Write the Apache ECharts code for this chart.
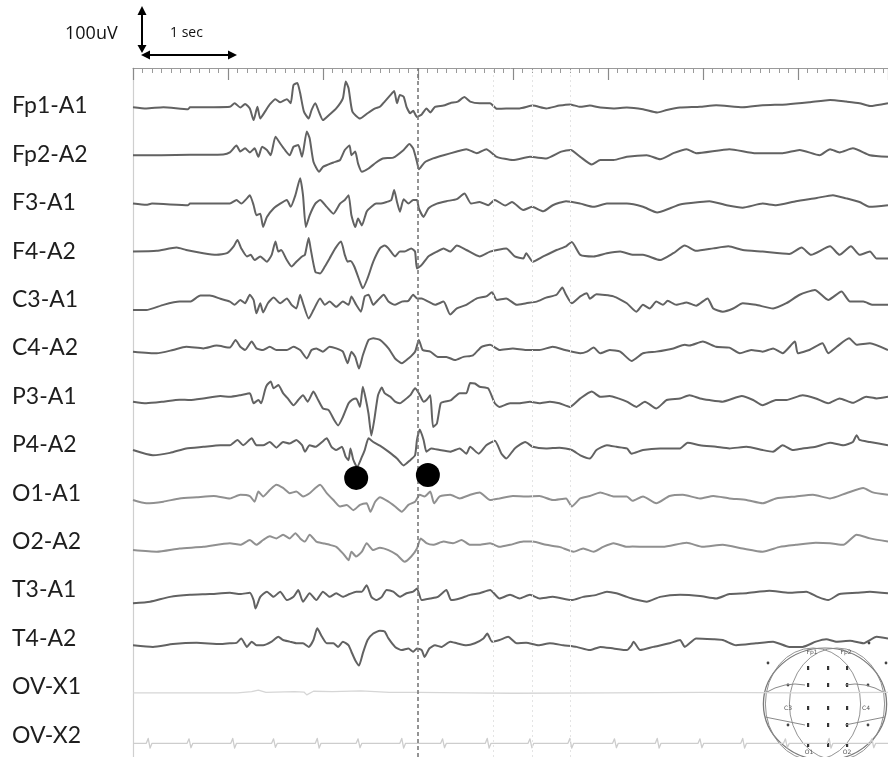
<!DOCTYPE html>
<html><head><meta charset="utf-8">
<script src="https://cdn.jsdelivr.net/npm/echarts@6/dist/echarts.min.js"></script>
<style>html,body{margin:0;padding:0;background:#fff}#c{width:888px;height:757px}</style>
</head><body><div id="c"></div>
<script>
// Channel names (labels on the left)
const channelNames = ['Fp1-A1','Fp2-A2','F3-A1','F4-A2','C3-A1','C4-A2','P3-A1','P4-A2','O1-A1','O2-A2','T3-A1','T4-A2','OV-X1','OV-X2'];

// Each trace: [time (s), amplitude (µV)]
const fp1A1 = [[0,-3],[0.14,-6],[0.32,-3],[0.58,-8],[0.6,-3],[0.85,-3],[1.02,-2],[1.07,7],[1.13,-4],[1.18,5],[1.23,-6],[1.27,-35],[1.31,-2],[1.34,-31],[1.39,-14],[1.44,4],[1.5,17],[1.55,9],[1.62,17],[1.66,7],[1.69,52],[1.73,57],[1.76,32],[1.8,-14],[1.85,-31],[1.88,-10],[1.92,7],[1.96,-16],[2.0,-35],[2.07,-21],[2.14,-6],[2.21,19],[2.24,61],[2.27,44],[2.31,-14],[2.39,-31],[2.47,-18],[2.55,-6],[2.6,-2],[2.65,11],[2.71,27],[2.75,37],[2.78,7],[2.81,27],[2.85,23],[2.88,-2],[2.92,-18],[2.95,-12],[2.99,-27],[3.04,-21],[3.09,-6],[3.13,-16],[3.18,-2],[3.27,1],[3.34,7],[3.42,11],[3.49,22],[3.55,11],[3.65,7],[3.76,7],[3.83,-7],[3.93,-6],[4.07,-6],[4.21,1],[4.35,-6],[4.49,1],[4.6,4],[4.71,-2],[4.81,1],[4.92,-4],[5.06,-6],[5.2,-4],[5.37,-8],[5.52,-16],[5.62,-10],[5.76,-4],[5.97,-2],[6.14,2],[6.42,-3],[6.63,2],[6.88,4],[7.12,9],[7.34,15],[7.51,11],[7.65,7],[7.76,0],[7.95,7]];
const fp2A2 = [[0,-2],[0.3,-2],[0.6,-1],[0.95,0],[1.02,5],[1.09,22],[1.13,7],[1.18,15],[1.23,5],[1.28,15],[1.32,-6],[1.36,19],[1.41,11],[1.45,-2],[1.5,44],[1.55,27],[1.6,11],[1.65,-2],[1.69,19],[1.74,23],[1.78,-6],[1.83,57],[1.86,40],[1.9,-18],[1.96,-43],[2.0,-31],[2.11,-20],[2.18,-14],[2.23,11],[2.28,22],[2.3,-2],[2.34,7],[2.37,-23],[2.41,-43],[2.48,-35],[2.56,-20],[2.63,-10],[2.74,-8],[2.85,11],[2.91,26],[2.95,15],[2.99,-18],[3.01,-37],[3.07,-20],[3.16,-10],[3.27,-2],[3.41,7],[3.51,13],[3.62,3],[3.72,13],[3.83,-6],[4.0,-14],[4.18,-6],[4.35,-10],[4.51,7],[4.61,11],[4.71,-6],[4.83,-25],[4.92,-14],[5.06,-14],[5.2,-6],[5.41,-2],[5.55,-12],[5.69,3],[5.83,13],[5.93,3],[6.28,13],[6.56,3],[6.84,3],[7.02,11],[7.23,-2],[7.34,13],[7.44,5],[7.58,15],[7.76,-2],[7.95,-6]];
const f3A1 = [[0,-2],[0.14,-5],[0.2,-2],[0.58,-6],[0.6,-2],[1.02,-2],[1.09,7],[1.14,-2],[1.2,11],[1.23,19],[1.27,-6],[1.3,-31],[1.34,-27],[1.37,-60],[1.41,-35],[1.48,-14],[1.55,-2],[1.62,7],[1.66,-10],[1.71,19],[1.76,61],[1.79,19],[1.82,-60],[1.86,-31],[1.92,-2],[1.97,7],[2.04,-10],[2.11,-27],[2.18,-2],[2.23,7],[2.27,19],[2.3,-31],[2.34,-60],[2.37,-39],[2.41,-56],[2.46,-22],[2.51,-10],[2.56,-2],[2.6,-2],[2.67,2],[2.72,7],[2.75,32],[2.78,2],[2.81,-22],[2.85,9],[2.9,-2],[2.95,7],[2.99,7],[3.01,-14],[3.06,-35],[3.11,-14],[3.2,-2],[3.3,4],[3.41,9],[3.49,23],[3.56,-2],[3.65,2],[3.74,-6],[3.81,7],[3.92,-7],[3.99,2],[4.11,-18],[4.2,-10],[4.32,-21],[4.42,-6],[4.56,4],[4.71,-2],[4.85,-10],[4.99,-2],[5.2,-2],[5.37,-10],[5.52,-24],[5.65,-14],[5.76,-4],[5.97,2],[6.07,4],[6.25,-6],[6.42,-12],[6.63,-2],[6.77,-6],[6.98,4],[7.2,12],[7.37,19],[7.51,11],[7.65,2],[7.76,-10],[7.95,-6]];
const f4A2 = [[0,-1],[0.25,1],[0.46,9],[0.56,3],[0.74,-5],[0.88,-9],[0.99,-5],[1.06,12],[1.1,28],[1.14,7],[1.2,-13],[1.24,-9],[1.28,-22],[1.34,-13],[1.41,-26],[1.46,-9],[1.5,24],[1.53,-1],[1.56,3],[1.62,-22],[1.67,-38],[1.72,-26],[1.78,-13],[1.81,-9],[1.85,33],[1.87,7],[1.92,-51],[1.97,-55],[2.02,-38],[2.07,-18],[2.13,7],[2.19,24],[2.23,-9],[2.26,-26],[2.29,-24],[2.33,-38],[2.39,-76],[2.42,-92],[2.47,-67],[2.53,-26],[2.6,7],[2.65,14],[2.69,7],[2.76,-13],[2.81,-1],[2.86,-1],[2.93,7],[2.97,-1],[2.99,-43],[3.04,-34],[3.11,-13],[3.2,-1],[3.27,7],[3.34,-1],[3.41,14],[3.51,3],[3.65,-13],[3.76,-1],[3.93,7],[4.02,-13],[4.11,-18],[4.14,-5],[4.21,-26],[4.32,-13],[4.46,3],[4.56,12],[4.62,23],[4.71,-9],[4.85,-13],[4.99,-5],[5.13,-1],[5.27,-9],[5.37,-9],[5.55,-22],[5.69,-5],[5.81,14],[5.93,1],[6.11,7],[6.27,12],[6.42,3],[6.63,-1],[6.91,-7],[7.04,9],[7.14,-9],[7.34,12],[7.44,-9],[7.56,12],[7.65,-9],[7.76,-1],[7.83,-18],[7.95,-18]];
const c3A1 = [[0,-26],[0.14,-26],[0.32,-13],[0.49,-5],[0.6,-5],[0.71,10],[0.81,10],[0.92,2],[1.02,-5],[1.07,-13],[1.13,-1],[1.18,-9],[1.23,12],[1.27,-1],[1.3,-34],[1.34,-9],[1.37,-32],[1.42,-9],[1.48,5],[1.55,-9],[1.62,3],[1.67,-13],[1.72,-22],[1.76,12],[1.79,-9],[1.85,-47],[1.9,-26],[1.97,3],[2.02,-13],[2.07,-5],[2.14,-18],[2.21,-5],[2.27,-13],[2.3,8],[2.35,-13],[2.4,-30],[2.44,8],[2.48,12],[2.53,-13],[2.58,-1],[2.64,12],[2.69,-5],[2.76,-13],[2.83,-5],[2.9,-3],[2.95,12],[2.99,3],[3.04,3],[3.11,-5],[3.18,-13],[3.27,-5],[3.34,-37],[3.41,-22],[3.51,-13],[3.62,3],[3.72,8],[3.78,18],[3.83,-1],[3.93,3],[4.04,-13],[4.14,-9],[4.25,-5],[4.35,5],[4.46,12],[4.52,30],[4.56,12],[4.62,-9],[4.71,8],[4.78,16],[4.81,2],[4.88,13],[5.06,8],[5.2,-9],[5.3,-30],[5.37,-13],[5.44,-22],[5.51,-5],[5.58,-13],[5.63,-3],[5.72,-13],[5.83,-7],[5.93,-15],[6.05,3],[6.11,-22],[6.21,-30],[6.32,-22],[6.42,-9],[6.56,-13],[6.74,-22],[6.88,-9],[7.02,12],[7.18,24],[7.32,-1],[7.46,20],[7.55,-5],[7.69,-5],[7.79,-13],[7.95,-13]];
const c4A2 = [[0,-9],[0.25,-13],[0.42,-5],[0.56,3],[0.74,-1],[0.88,6],[1.02,1],[1.08,20],[1.13,3],[1.18,-5],[1.25,16],[1.3,-1],[1.37,-5],[1.44,3],[1.51,-5],[1.62,-5],[1.69,3],[1.76,-5],[1.83,-26],[1.88,-5],[1.93,-1],[2.0,-9],[2.07,3],[2.14,-1],[2.21,-9],[2.26,-38],[2.3,-9],[2.34,-22],[2.38,-51],[2.42,-18],[2.48,20],[2.53,24],[2.6,20],[2.69,-1],[2.76,-26],[2.83,-38],[2.9,-26],[2.97,-9],[3.01,20],[3.05,-5],[3.13,-9],[3.21,-22],[3.3,-22],[3.39,-30],[3.48,-22],[3.58,-18],[3.67,3],[3.76,8],[3.86,-5],[4.0,-1],[4.14,-5],[4.28,-5],[4.42,3],[4.55,-5],[4.71,-13],[4.78,-9],[4.85,1],[4.92,-13],[5.02,-5],[5.13,-9],[5.25,-32],[5.37,-13],[5.51,-9],[5.69,-1],[5.81,8],[5.86,6],[6.0,16],[6.14,3],[6.28,1],[6.39,-13],[6.51,-5],[6.63,-9],[6.74,-1],[6.84,-13],[6.97,16],[7.0,-13],[7.12,-5],[7.26,12],[7.32,-13],[7.41,3],[7.54,24],[7.62,8],[7.76,12],[7.95,-5]];
const p3A1 = [[0,-13],[0.14,-17],[0.32,-13],[0.49,-8],[0.6,-9],[0.74,-5],[0.92,1],[1.02,-1],[1.13,3],[1.23,8],[1.27,-17],[1.32,-9],[1.35,-17],[1.39,16],[1.41,28],[1.45,37],[1.48,20],[1.53,28],[1.58,8],[1.63,-5],[1.69,-22],[1.74,-9],[1.79,3],[1.84,-13],[1.9,12],[1.95,-9],[2.0,-30],[2.06,-34],[2.12,-59],[2.16,-72],[2.21,-51],[2.27,-17],[2.31,-8],[2.35,-5],[2.39,-26],[2.42,24],[2.45,-5],[2.48,-43],[2.51,-97],[2.54,-59],[2.58,3],[2.62,22],[2.65,8],[2.71,-1],[2.76,-13],[2.81,-17],[2.86,-9],[2.92,3],[2.97,20],[3.01,8],[3.06,-13],[3.09,-9],[3.13,3],[3.16,-76],[3.2,-67],[3.24,-17],[3.28,-13],[3.35,-9],[3.44,8],[3.51,8],[3.55,33],[3.6,32],[3.65,24],[3.74,20],[3.81,-17],[3.86,-26],[3.97,-17],[4.07,-17],[4.18,-13],[4.28,-17],[4.39,-13],[4.49,-17],[4.6,-26],[4.71,-5],[4.83,12],[4.92,-1],[5.02,1],[5.11,-5],[5.2,-13],[5.3,-26],[5.39,-13],[5.51,-30],[5.62,-9],[5.76,-5],[5.86,3],[5.97,-5],[6.07,-9],[6.21,-13],[6.41,1],[6.53,-9],[6.63,-22],[6.77,-9],[6.88,-9],[7.05,3],[7.19,-5],[7.32,-17],[7.44,-5],[7.58,-16],[7.72,-1],[7.83,-5],[7.95,-1]];
const p4A2 = [[0,-13],[0.21,-26],[0.39,-20],[0.56,-9],[0.74,-5],[0.92,-1],[1.02,-1],[1.1,12],[1.16,-1],[1.25,16],[1.3,-1],[1.37,-1],[1.44,7],[1.51,-7],[1.58,7],[1.65,3],[1.72,12],[1.78,-1],[1.81,-17],[1.86,-1],[1.92,-5],[1.99,7],[2.04,16],[2.09,-5],[2.14,-13],[2.2,-5],[2.24,-30],[2.27,-38],[2.29,-9],[2.32,-37],[2.36,-55],[2.41,-30],[2.44,-13],[2.48,16],[2.53,7],[2.6,-2],[2.69,-17],[2.78,-34],[2.85,-51],[2.92,-38],[2.97,-26],[2.99,12],[3.02,38],[3.06,12],[3.09,-17],[3.14,-9],[3.23,-13],[3.34,-17],[3.44,-9],[3.51,-22],[3.55,-5],[3.64,-22],[3.72,-1],[3.81,10],[3.88,-22],[3.93,-34],[4.02,-9],[4.13,7],[4.21,-5],[4.35,-9],[4.49,-7],[4.62,-13],[4.71,-26],[4.81,-34],[4.88,-13],[4.99,-1],[5.09,-5],[5.2,-9],[5.25,-22],[5.37,-13],[5.55,-9],[5.76,-9],[5.84,5],[5.97,-1],[6.14,-5],[6.28,-9],[6.46,-5],[6.63,-13],[6.74,-17],[6.84,-1],[6.95,-13],[7.05,-9],[7.19,-5],[7.34,5],[7.48,-1],[7.58,7],[7.62,24],[7.65,12],[7.76,7],[7.95,-1]];
const o1A1 = [[0,-17],[0.14,-25],[0.32,-21],[0.49,-13],[0.67,-10],[0.85,-7],[1.02,-13],[1.13,-4],[1.23,-7],[1.28,-21],[1.32,4],[1.37,-8],[1.44,8],[1.51,21],[1.58,13],[1.65,0],[1.72,4],[1.79,-8],[1.86,0],[1.92,13],[1.97,21],[2.04,0],[2.11,-17],[2.18,-33],[2.25,-29],[2.32,-42],[2.39,-29],[2.46,-25],[2.5,-46],[2.55,-21],[2.6,-10],[2.69,-21],[2.76,-33],[2.83,-46],[2.9,-29],[2.97,-21],[3.02,-4],[3.07,-8],[3.13,4],[3.17,-25],[3.23,-8],[3.34,-4],[3.44,-13],[3.55,-4],[3.65,2],[3.76,-17],[3.86,-13],[4.0,-7],[4.14,-8],[4.28,-7],[4.42,-17],[4.56,-13],[4.62,-33],[4.71,-13],[4.81,-7],[4.92,2],[5.06,-8],[5.2,-8],[5.26,-19],[5.37,-8],[5.51,-25],[5.65,-7],[5.79,-4],[5.97,-13],[6.11,-7],[6.28,-13],[6.46,-17],[6.63,-25],[6.77,-13],[6.98,-8],[7.16,-4],[7.34,-13],[7.51,0],[7.69,13],[7.79,2],[7.95,-4]];
const o2A2 = [[0,-21],[0.25,-25],[0.49,-17],[0.74,-13],[1.02,-4],[1.13,-8],[1.23,4],[1.3,-8],[1.37,4],[1.44,13],[1.51,8],[1.58,17],[1.65,8],[1.71,21],[1.76,8],[1.81,0],[1.86,17],[1.93,0],[2.0,-4],[2.07,-8],[2.14,-13],[2.21,-29],[2.27,-46],[2.3,-25],[2.35,-37],[2.41,-25],[2.46,-4],[2.53,-21],[2.6,-15],[2.69,-21],[2.78,-33],[2.86,-50],[2.93,-37],[2.99,-17],[3.03,8],[3.09,-4],[3.16,-8],[3.27,0],[3.37,-4],[3.46,4],[3.55,-8],[3.65,-8],[3.76,-4],[3.86,-13],[3.97,-8],[4.11,0],[4.21,0],[4.35,-8],[4.49,-13],[4.64,-25],[4.74,-17],[4.85,-25],[4.95,-13],[5.06,-4],[5.2,-13],[5.26,-12],[5.41,-13],[5.58,-13],[5.83,-3],[6.0,-13],[6.21,-8],[6.42,-17],[6.63,-25],[6.81,-13],[6.98,-8],[7.19,-3],[7.34,-4],[7.48,-8],[7.62,17],[7.76,8],[7.95,0]];
const t3A1 = [[0,-33],[0.18,-29],[0.39,-17],[0.6,-12],[0.81,-10],[1.02,-7],[1.13,-10],[1.23,-7],[1.27,-25],[1.29,-46],[1.34,-17],[1.41,-4],[1.48,-17],[1.55,-4],[1.62,-25],[1.69,-17],[1.74,0],[1.79,-29],[1.86,-8],[1.93,-25],[2.0,-4],[2.07,-17],[2.14,-8],[2.21,-17],[2.28,-10],[2.35,-4],[2.41,-4],[2.46,12],[2.51,-17],[2.56,-25],[2.62,-17],[2.67,0],[2.74,-4],[2.81,-17],[2.88,-8],[2.95,-4],[2.99,4],[3.04,-25],[3.13,-21],[3.21,-17],[3.3,0],[3.35,-25],[3.44,-21],[3.55,-12],[3.65,-8],[3.76,0],[3.86,-21],[3.97,-12],[4.07,-21],[4.18,-12],[4.28,-21],[4.42,-17],[4.62,-25],[4.74,-17],[4.88,-12],[4.99,-4],[5.09,-8],[5.2,-17],[5.28,-23],[5.41,-29],[5.55,-17],[5.76,-12],[5.97,-15],[6.14,-21],[6.28,-10],[6.46,-8],[6.7,-2],[6.91,-7],[7.09,-4],[7.21,-17],[7.32,-25],[7.44,-10],[7.62,-7],[7.76,-4],[7.95,-8]];
const t4A2 = [[0,-17],[0.21,-21],[0.42,-14],[0.67,-11],[0.92,-14],[1.02,-12],[1.09,-11],[1.14,0],[1.2,-21],[1.25,-8],[1.3,-17],[1.37,-17],[1.46,-8],[1.53,4],[1.58,-4],[1.65,-8],[1.72,-12],[1.79,-12],[1.85,-21],[1.9,-4],[1.94,25],[1.99,4],[2.04,-12],[2.11,-12],[2.16,-21],[2.21,-8],[2.27,-17],[2.3,-33],[2.34,-54],[2.38,-67],[2.42,-37],[2.47,-4],[2.53,12],[2.6,19],[2.65,17],[2.69,0],[2.76,-21],[2.83,-29],[2.9,-25],[2.95,-33],[2.99,-25],[3.04,-29],[3.07,-46],[3.12,-25],[3.18,-17],[3.25,-21],[3.34,-8],[3.41,-12],[3.51,-17],[3.6,-12],[3.69,0],[3.73,12],[3.78,-8],[3.86,-4],[3.95,4],[4.04,-12],[4.14,-11],[4.27,-17],[4.39,-12],[4.53,-17],[4.67,-21],[4.81,-29],[4.92,-21],[5.06,-25],[5.2,-29],[5.25,-17],[5.27,-8],[5.34,-29],[5.48,-21],[5.65,-12],[5.76,-4],[5.81,-21],[5.93,0],[6.11,-2],[6.21,-4],[6.35,-17],[6.56,-12],[6.74,-8],[6.91,-21],[7.05,-21],[7.19,-8],[7.3,-2],[7.41,-8],[7.55,-6],[7.69,-12],[7.83,4],[7.95,0]];
const ovX1 = [[0,-15],[1.1,-15],[1.25,-12],[1.32,-8],[1.4,-14],[1.7,-12],[1.8,-13],[1.83,-20],[1.9,-11],[2.1,-12],[2.4,-10],[2.7,-14],[3.0,-14],[3.5,-15],[4,-16],[5,-15],[6,-14],[7,-15],[7.95,-14]];
const ovX2 = [[0,-20],[0.14,-20],[0.16,-8],[0.18,-32],[0.2,-20],[0.57,-20],[0.59,-9],[0.61,-31],[0.63,-20],[1.03,-20],[1.05,-8],[1.07,-32],[1.09,-20],[1.46,-20],[1.48,-9],[1.5,-30],[1.52,-20],[1.92,-20],[1.94,-8],[1.96,-32],[1.98,-20],[2.35,-20],[2.37,-9],[2.39,-31],[2.41,-20],[2.81,-20],[2.83,-8],[2.85,-32],[2.87,-20],[3.24,-20],[3.26,-9],[3.28,-31],[3.3,-20],[3.71,-20],[3.73,-8],[3.75,-32],[3.77,-20],[4.16,-20],[4.18,-9],[4.2,-31],[4.22,-20],[4.58,-20],[4.6,-8],[4.62,-32],[4.64,-20],[5.05,-20],[5.07,-9],[5.09,-31],[5.11,-20],[5.5,-20],[5.52,-8],[5.54,-32],[5.56,-20],[5.95,-20],[5.97,-9],[5.99,-31],[6.01,-20],[6.4,-20],[6.42,-8],[6.44,-32],[6.46,-20],[6.85,-20],[6.87,-9],[6.89,-31],[6.91,-20],[7.31,-20],[7.33,-8],[7.35,-32],[7.37,-20],[7.76,-20],[7.78,-9],[7.8,-31],[7.82,-20],[7.95,-20]];

// Marked events (black dots): time (s), level on the stacked µV axis
const markerTimes = [2.35, 3.105];
const markerLevels = [-922, -915];

// Vertical reference lines (s)
const eventLine = 3.0;
const faintLines = [3.79, 4.2, 4.6];

const channelData = [fp1A1, fp2A2, f3A1, f4A2, c3A1, c4A2, p3A1, p4A2, o1A1, o2A2, t3A1, t4A2, ovX1, ovX2];
const channelSpacing = 120; // µV between stacked channels

function traceColor(k) {
  if (k === 8 || k === 9) return '#909090';
  if (k === 12) return '#d6d6d6';
  if (k === 13) return '#cdcdcd';
  return '#626262';
}

const series = channelData.map((d, k) => ({
  type: 'line',
  name: channelNames[k],
  data: d.map(p => [p[0], p[1] - channelSpacing * k]),
  showSymbol: false,
  symbol: 'none',
  smooth: k >= 12 ? false : 0.18,
  silent: true,
  animation: false,
  lineStyle: { color: traceColor(k), width: k >= 12 ? 1.3 : 2, join: 'round' },
  z: 3
}));

series.push({
  type: 'line', data: [], silent: true, animation: false, z: 2,
  markLine: {
    symbol: 'none', silent: true, animation: false,
    label: { show: false },
    data: [{ xAxis: eventLine, lineStyle: { type: [4, 3], color: '#7a7a7a', width: 1.6 } }]
      .concat(faintLines.map(v => ({ xAxis: v, lineStyle: { type: [2, 3], color: '#e4e4e4', width: 1 } })))
  }
});

series.push({
  type: 'scatter',
  data: markerTimes.map((t, i) => [t, markerLevels[i]]),
  symbol: 'circle', symbolSize: 24,
  itemStyle: { color: '#000', opacity: 1 },
  silent: true, animation: false, z: 5
});

const chart = echarts.init(document.getElementById('c'), null, { renderer: 'canvas' });

const head = [];
const hc = [825, 704];
head.push({ type: 'circle', x: hc[0], y: hc[1], scaleX: 1.1, scaleY: 1, shape: { cx: 0, cy: 0, r: 56 }, style: { fill: 'none', stroke: '#7a7a7a', lineWidth: 1.2, strokeNoScale: true } });
head.push({ type: 'circle', x: hc[0] - 12, y: hc[1], scaleX: 0.85, scaleY: 1, shape: { cx: 0, cy: 0, r: 56 }, style: { fill: 'none', stroke: '#8a8a8a', lineWidth: 1, strokeNoScale: true } });
head.push({ type: 'circle', x: hc[0] + 12, y: hc[1], scaleX: 0.85, scaleY: 1, shape: { cx: 0, cy: 0, r: 56 }, style: { fill: 'none', stroke: '#8a8a8a', lineWidth: 1, strokeNoScale: true } });
const eCols = [808, 828, 847];
const eRows = [668, 685, 708, 725, 745];
eCols.forEach(x => eRows.forEach(y => head.push({ type: 'rect', shape: { x: x - 1, y: y - 2, width: 2.2, height: 4 }, style: { fill: '#333' } })));
[[788, 685], [868, 685], [788, 725], [868, 725], [768, 663], [886, 663], [869, 643]].forEach(p => head.push({ type: 'circle', shape: { cx: p[0], cy: p[1], r: 1.4 }, style: { fill: '#444' } }));
[['Fp1', 812, 652], ['Fp2', 846, 652], ['C3', 788, 708], ['C4', 866, 708], ['O1', 809, 752], ['O2', 847, 752]].forEach(t => head.push({ type: 'text', x: t[1], y: t[2], style: { text: t[0], fontSize: 6, fill: '#555', align: 'center', verticalAlign: 'middle', fontFamily: 'DejaVu Sans' } }));
[[685, -1], [725, -1], [685, 1], [725, 1]].forEach(a => {
  const y = a[0], s = a[1];
  head.push({ type: 'bezierCurve', shape: { x1: hc[0] + s * 20, y1: y, x2: hc[0] + s * 60, y2: y + (y < 700 ? 8 : -8), cpx1: hc[0] + s * 40, cpy1: y - 4 }, style: { fill: 'none', stroke: '#8a8a8a', lineWidth: 1 } });
});

chart.setOption({
  animation: false,
  backgroundColor: '#fff',
  grid: { left: 133, right: 0, top: 68, bottom: 0, containLabel: false },
  xAxis: {
    type: 'value', position: 'top', min: 0, max: 7.95, interval: 1,
    axisLine: { show: true, onZero: false, lineStyle: { color: '#9a9a9a', width: 1 } },
    axisTick: { show: true, inside: true, length: 12, lineStyle: { color: '#8a8a8a', width: 1.2 } },
    minorTick: { show: true, splitNumber: 10, length: 5, lineStyle: { color: '#9a9a9a', width: 1 } },
    axisLabel: { show: false },
    splitLine: { show: false }
  },
  yAxis: {
    type: 'value', min: -1614, max: 94.2,
    axisLine: { show: true, onZero: false, lineStyle: { color: '#cfcfcf', width: 1.2 } },
    axisTick: { show: false },
    splitLine: { show: false },
    axisLabel: {
      show: true,
      customValues: channelNames.map((n, k) => -channelSpacing * k),
      formatter: v => channelNames[Math.round(-v / channelSpacing)] || '',
      align: 'left', margin: 121, padding: [4, 0, 0, 0],
      fontSize: 23, color: '#1e1e1e', fontFamily: 'Lato'
    }
  },
  graphic: [
    { type: 'line', shape: { x1: 142, y1: 12, x2: 142, y2: 50 }, style: { stroke: '#000', lineWidth: 2 } },
    { type: 'polygon', shape: { points: [[142, 6], [137.5, 15], [146.5, 15]] }, style: { fill: '#000' } },
    { type: 'polygon', shape: { points: [[142, 53], [137.5, 45], [146.5, 45]] }, style: { fill: '#000' } },
    { type: 'line', shape: { x1: 146, y1: 55, x2: 232, y2: 55 }, style: { stroke: '#000', lineWidth: 2 } },
    { type: 'polygon', shape: { points: [[141, 55], [150, 50.5], [150, 59.5]] }, style: { fill: '#000' } },
    { type: 'polygon', shape: { points: [[237, 55], [228, 50.5], [228, 59.5]] }, style: { fill: '#000' } },
    { type: 'text', x: 65, y: 34, style: { text: '100uV', fontSize: 18, fill: '#111', fontFamily: 'Open Sans', verticalAlign: 'middle' } },
    { type: 'text', x: 170, y: 33, style: { text: '1 sec', fontSize: 14, fill: '#111', fontFamily: 'Open Sans', verticalAlign: 'middle' } }
  ].concat(head),
  series: series
});
</script>
</body></html>
